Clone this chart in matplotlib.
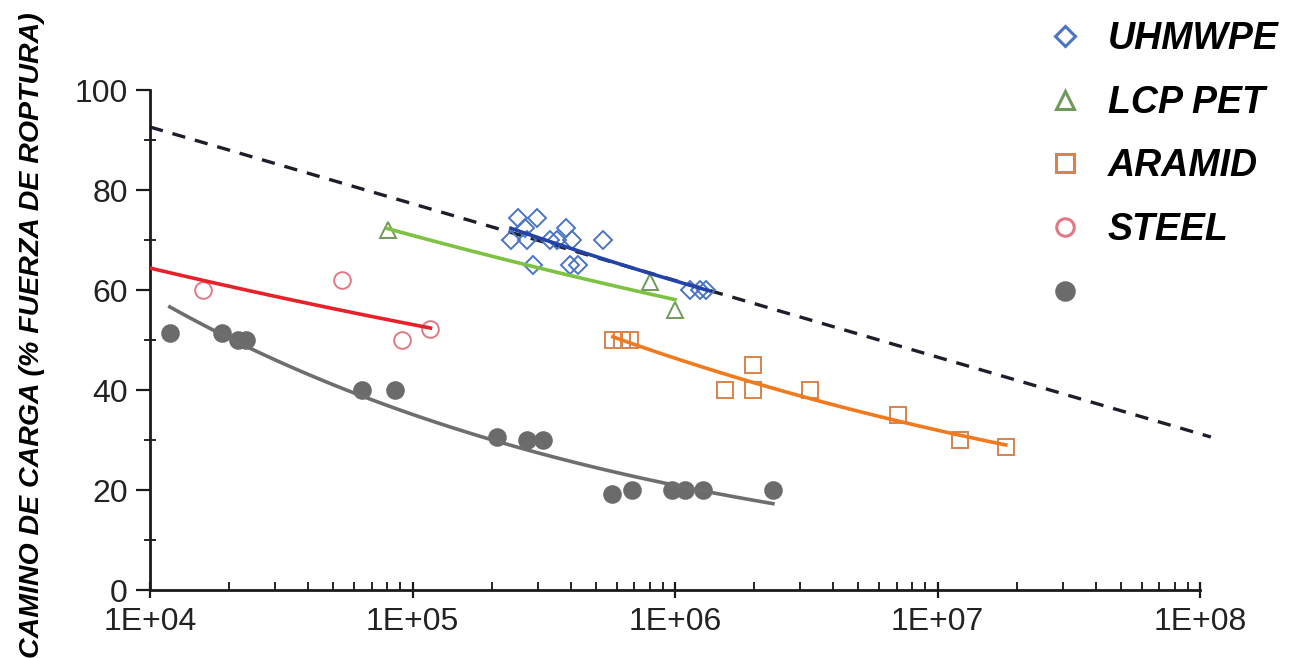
import numpy as np
import matplotlib
matplotlib.use("Agg")
import matplotlib.pyplot as plt
import matplotlib.ticker as ticker
from matplotlib.lines import Line2D

plt.rcParams['font.family'] = ['Liberation Sans', 'DejaVu Sans']

# ---- data -------------------------------------------------------------
uhmwpe_x = [2.52e5, 2.98e5, 2.37e5, 2.73e5, 2.68e5, 3.34e5, 3.55e5, 3.84e5,
            4.05e5, 5.32e5, 2.88e5, 3.98e5, 4.27e5, 1.14e6, 1.25e6, 1.31e6]
uhmwpe_y = [74.4, 74.4, 70, 70, 72.4, 70, 70, 72.4,
            70, 70, 65, 65, 65, 60, 60, 60]

lcp_x = [8.07e4, 8.04e5, 1.0e6]
lcp_y = [72, 61.6, 56]

aramid_x = [5.81e5, 6.28e5, 6.74e5, 1.55e6, 1.98e6, 1.98e6, 3.27e6, 7.08e6, 1.22e7, 1.82e7]
aramid_y = [50, 50, 50, 40, 40, 45, 40, 35, 30, 28.6]

steel_x = [1.59e4, 5.38e4, 9.12e4, 1.17e5]
steel_y = [60, 62, 50, 52.2]

gray_x = [1.19e4, 1.88e4, 2.16e4, 2.32e4, 6.4e4, 8.6e4, 2.1e5, 2.73e5, 3.14e5,
          5.75e5, 6.86e5, 9.75e5, 1.09e6, 1.28e6, 2.36e6]
gray_y = [51.4, 51.4, 50, 50, 40, 40, 30.6, 30, 30,
          19.2, 20, 20, 20, 20, 20]

# x range covered by each trend line
uhmwpe_rng = [2.37e5, 1.35e6]
lcp_rng = [8.0e4, 1.0e6]
aramid_rng = [5.8e5, 1.82e7]
steel_rng = [1.0e4, 1.17e5]
gray_rng = [1.19e4, 2.36e6]

# dashed reference line (end points)
ref_x = [1.0e4, 1.1e8]
ref_y = [92.6, 30.6]

legend_labels = ['UHMWPE', 'LCP PET', 'ARAMID', 'STEEL', '']

"""#########################################################################"""

def power_fit(xs, ys, rng):
    lx = np.log10(xs)
    ly = np.log10(ys)
    b, a = np.polyfit(lx, ly, 1)
    xx = np.logspace(np.log10(rng[0]), np.log10(rng[1]), 100)
    return xx, 10**(a + b*np.log10(xx))

fig = plt.figure(figsize=(13.07, 6.58), dpi=100)
fig.patch.set_facecolor('white')
ax = fig.add_axes([150/1307, 1-590/658, 1050/1307, 500/658])
ax.set_facecolor('none')

c_blue, c_blue_ln = '#4a74c4', '#2443a8'
c_green, c_green_ln = '#6f9a5c', '#7dc242'
c_orange, c_orange_ln = '#d9824c', '#f27a1e'
c_red, c_red_ln = '#e07886', '#e8202a'
c_gray, c_gray_ln = '#6b6b6b', '#6e6e6e'

# dashed line
ax.plot(ref_x, ref_y, color='#1e1e2a', lw=2.4, ls=(0, (4, 3)), clip_on=False, zorder=2)

series = [
    (uhmwpe_x, uhmwpe_y, uhmwpe_rng, c_blue, c_blue_ln, 'D', 9.5, 'none'),
    (lcp_x, lcp_y, lcp_rng, c_green, c_green_ln, '^', 12, 'none'),
    (aramid_x, aramid_y, aramid_rng, c_orange, c_orange_ln, 's', 12, 'none'),
    (steel_x, steel_y, steel_rng, c_red, c_red_ln, 'o', 12, 'none'),
    (gray_x, gray_y, gray_rng, c_gray, c_gray_ln, 'o', 12, c_gray),
]

handles = []
for xs, ys, rng, mc, lc, mk, ms, fc in series:
    ax.plot(xs, ys, ls='none', marker=mk, ms=ms, mfc=fc, mec=mc, mew=1.4, zorder=3)
    fx, fy = power_fit(xs, ys, rng)
    ax.plot(fx, fy, color=lc, lw=2.6, zorder=4)
    handles.append(Line2D([], [], ls='none', marker=mk, ms=ms*1.05, mfc=fc, mec=mc, mew=2.2))

ax.set_xscale('log')
ax.set_xlim(1e4, 1e8)
ax.set_ylim(0, 100)

ax.xaxis.set_major_locator(ticker.LogLocator(base=10, numticks=10))
ax.xaxis.set_minor_locator(ticker.LogLocator(base=10, subs=np.arange(2, 10), numticks=50))
ax.xaxis.set_minor_formatter(ticker.NullFormatter())
ax.xaxis.set_major_formatter(ticker.FuncFormatter(lambda v, p: '1E+%02d' % int(round(np.log10(v)))))
ax.yaxis.set_major_locator(ticker.MultipleLocator(20))
ax.yaxis.set_minor_locator(ticker.MultipleLocator(10))

for s in ['top', 'right']:
    ax.spines[s].set_visible(False)
for s in ['left', 'bottom']:
    ax.spines[s].set_linewidth(2.0)
    ax.spines[s].set_color('#1a1a1a')

ax.tick_params(axis='both', which='major', labelsize=23, labelcolor='#222222',
               color='#1a1a1a', width=1.6)
ax.tick_params(axis='x', which='major', direction='inout', length=12, pad=6)
ax.tick_params(axis='x', which='minor', direction='in', length=6, width=1.2)
ax.tick_params(axis='y', which='major', direction='out', length=10, pad=6)
ax.tick_params(axis='y', which='minor', direction='inout', length=8, width=1.2)
for lbl in ax.get_yticklabels():
    lbl.set_verticalalignment('center_baseline')

fig.text(32/1307, 0.49, 'CAMINO DE CARGA (% FUERZA DE ROPTURA)', rotation=90,
         ha='center', va='center', fontsize=20.5, fontweight='bold', fontstyle='italic')

leg = fig.legend(handles, legend_labels, loc='upper left',
                 bbox_to_anchor=(1027/1307, 1-6/658), frameon=False,
                 prop={'size': 27, 'weight': 'bold', 'style': 'italic'},
                 labelspacing=0.74, handletextpad=0.55, handlelength=1.2,
                 borderaxespad=0)

fig.savefig('out.png', dpi=100, facecolor='white')
